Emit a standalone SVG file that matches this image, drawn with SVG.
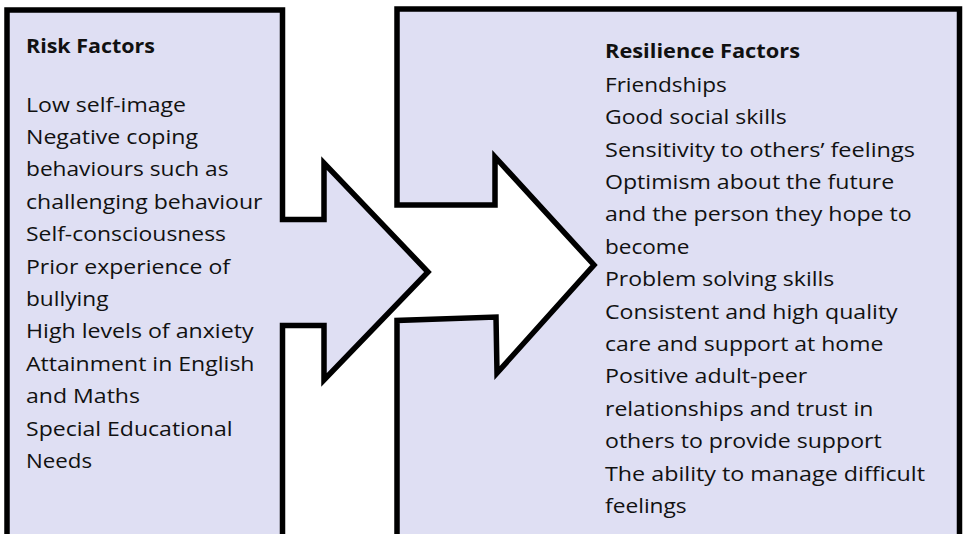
<svg xmlns="http://www.w3.org/2000/svg" width="963" height="534" viewBox="0 0 963 534">
  <style>
    .shape { fill: #dfdff3; stroke: #000; stroke-width: 5.5; stroke-linejoin: miter; }
    .txt { font-family: "Open Sans", Lato, "Liberation Sans", sans-serif; font-size: 20px; fill: #111; }
    .head { font-weight: bold; }
  </style>
  <rect width="963" height="534" fill="#fff"/>

  <!-- Left callout: box with arrow pointing right -->
  <g id="risk-factors">
    <path class="shape" d="M7,10 H282.5 V219.5 H324 V163 L428,272 L324,380 V325.5 H282.5 V548 H7 Z"/>
    <g class="txt">
      <text class="head" x="26" y="53" textLength="129" lengthAdjust="spacingAndGlyphs">Risk Factors</text>
      <text x="26" y="111.5" textLength="160" lengthAdjust="spacingAndGlyphs">Low self-image</text>
      <text x="26" y="143.9" textLength="172" lengthAdjust="spacingAndGlyphs">Negative coping</text>
      <text x="26" y="176.3" textLength="202.5" lengthAdjust="spacingAndGlyphs">behaviours such as</text>
      <text x="26" y="208.7" textLength="236.5" lengthAdjust="spacingAndGlyphs">challenging behaviour</text>
      <text x="26" y="241.1" textLength="200" lengthAdjust="spacingAndGlyphs">Self-consciousness</text>
      <text x="26" y="273.5" textLength="204" lengthAdjust="spacingAndGlyphs">Prior experience of</text>
      <text x="26" y="305.9" textLength="82.5" lengthAdjust="spacingAndGlyphs">bullying</text>
      <text x="26" y="338.3" textLength="227.5" lengthAdjust="spacingAndGlyphs">High levels of anxiety</text>
      <text x="26" y="370.7" textLength="228.5" lengthAdjust="spacingAndGlyphs">Attainment in English</text>
      <text x="26" y="403.1" textLength="114" lengthAdjust="spacingAndGlyphs">and Maths</text>
      <text x="26" y="435.5" textLength="206.5" lengthAdjust="spacingAndGlyphs">Special Educational</text>
      <text x="26" y="467.9" textLength="66" lengthAdjust="spacingAndGlyphs">Needs</text>
    </g>
  </g>

  <!-- Right callout: box with a notched arrow cut into its left side -->
  <g id="resilience-factors">
    <path class="shape" d="M397,9 H959.5 V548 H397 V320.5 L496,317 L497,373 L594,265 L495,157 V205 H397 Z"/>
    <g class="txt">
      <text class="head" x="605" y="58.3" textLength="195" lengthAdjust="spacingAndGlyphs">Resilience Factors</text>
      <text x="605" y="91.7" textLength="121.7" lengthAdjust="spacingAndGlyphs">Friendships</text>
      <text x="605" y="124.1" textLength="181.7" lengthAdjust="spacingAndGlyphs">Good social skills</text>
      <text x="605" y="156.5" textLength="310" lengthAdjust="spacingAndGlyphs">Sensitivity to others’ feelings</text>
      <text x="605" y="188.9" textLength="289.3" lengthAdjust="spacingAndGlyphs">Optimism about the future</text>
      <text x="605" y="221.3" textLength="306.7" lengthAdjust="spacingAndGlyphs">and the person they hope to</text>
      <text x="605" y="253.7" textLength="84.3" lengthAdjust="spacingAndGlyphs">become</text>
      <text x="605" y="286.1" textLength="229.3" lengthAdjust="spacingAndGlyphs">Problem solving skills</text>
      <text x="605" y="318.5" textLength="292.7" lengthAdjust="spacingAndGlyphs">Consistent and high quality</text>
      <text x="605" y="350.9" textLength="278.3" lengthAdjust="spacingAndGlyphs">care and support at home</text>
      <text x="605" y="383.3" textLength="202.3" lengthAdjust="spacingAndGlyphs">Positive adult-peer</text>
      <text x="605" y="415.7" textLength="268.3" lengthAdjust="spacingAndGlyphs">relationships and trust in</text>
      <text x="605" y="448.1" textLength="276.7" lengthAdjust="spacingAndGlyphs">others to provide support</text>
      <text x="605" y="480.5" textLength="320" lengthAdjust="spacingAndGlyphs">The ability to manage difficult</text>
      <text x="605" y="512.9" textLength="81.7" lengthAdjust="spacingAndGlyphs">feelings</text>
    </g>
  </g>

  <g id="connectors"/>
</svg>
